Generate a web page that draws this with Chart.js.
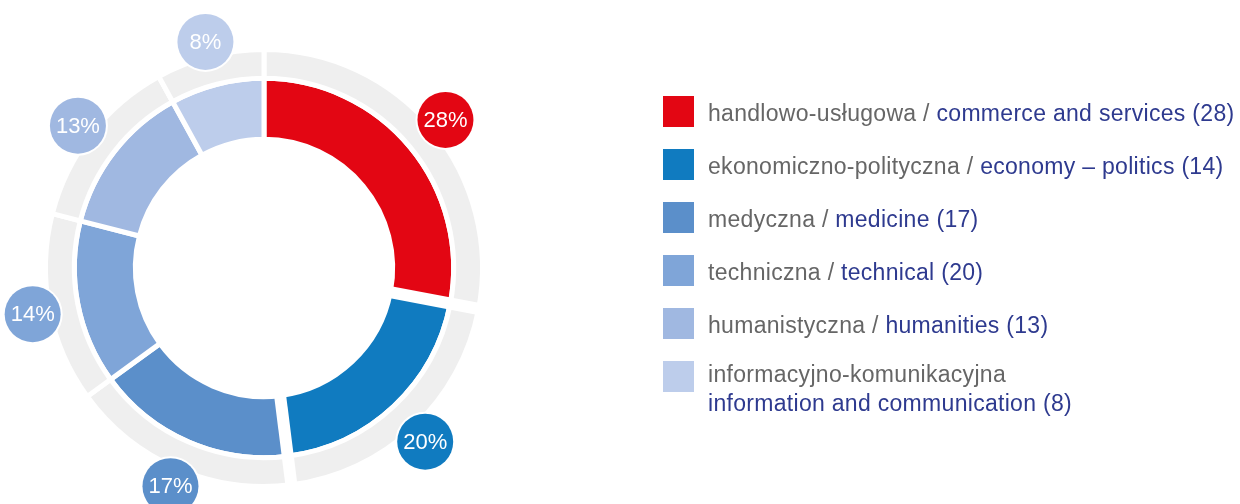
<!DOCTYPE html>
<html>
<head>
<meta charset="utf-8">
<script src="https://cdn.jsdelivr.net/npm/chart.js@4/dist/chart.umd.min.js"></script>
<style>
  html, body { margin: 0; padding: 0; background: #fff; }
  body { width: 1240px; height: 504px; position: relative; overflow: hidden; font-family: "Liberation Sans", Arial, sans-serif; }
  #chartBox { position: absolute; left: 0; top: 0; width: 528px; height: 504px; }
  #legend { position: absolute; left: 0; top: 0; width: 1240px; height: 504px; pointer-events: none; }
  .row { position: absolute; left: 663px; }
  .sw { position: absolute; left: 0; top: 0; width: 31px; height: 31px; }
  .txt { position: absolute; left: 45px; white-space: nowrap; font-size: 23px; line-height: 29px; letter-spacing: 0.3px; }
  .pl { color: #666666; }
  .en { color: #2e3a8f; }
</style>
</head>
<body>
<div id="chartBox"><canvas id="c"></canvas></div>
<div id="legend"></div>
<script>
// ---- data ----
const categoriesPl = ['handlowo-usługowa', 'ekonomiczno-polityczna', 'medyczna', 'techniczna', 'humanistyczna', 'informacyjno-komunikacyjna'];
const categoriesEn = ['commerce and services', 'economy – politics', 'medicine', 'technical', 'humanities', 'information and communication'];
const legendCounts = [28, 14, 17, 20, 13, 8];
const sharePercent = [28, 20, 17, 14, 13, 8];

// ---- styles ----
const segmentColors = ['#E30613', '#107BC0', '#5B8FCA', '#7FA5D8', '#A0B8E1', '#BDCDEB'];
const ringGrey = '#EFEFEF';
const wideGapAtStart = [0, 12, 12, 0, 0, 0]; // extra white separator width at the start edge of a segment

// ---- legend (HTML) ----
const legend = document.getElementById('legend');
categoriesPl.forEach((pl, i) => {
  const row = document.createElement('div');
  row.className = 'row';
  row.style.top = (96 + i * 53) + 'px';
  const sw = document.createElement('div');
  sw.className = 'sw';
  sw.style.background = segmentColors[i];
  row.appendChild(sw);
  const txt = document.createElement('div');
  txt.className = 'txt';
  const twoLine = i === categoriesPl.length - 1;
  txt.style.top = twoLine ? '-1px' : '3px';
  const p = document.createElement('span');
  p.className = 'pl';
  p.textContent = pl + (twoLine ? '' : ' / ');
  const e = document.createElement('span');
  e.className = 'en';
  e.textContent = categoriesEn[i] + ' (' + legendCounts[i] + ')';
  txt.appendChild(p);
  if (twoLine) txt.appendChild(document.createElement('br'));
  txt.appendChild(e);
  row.appendChild(txt);
  legend.appendChild(row);
});

// ---- plugin: wide gaps + percentage bubbles ----
const decorations = {
  id: 'decorations',
  afterDatasetsDraw(chart) {
    const ctx = chart.ctx;
    const outerArcs = chart.getDatasetMeta(0).data;
    const innerArcs = chart.getDatasetMeta(1).data;
    ctx.save();
    innerArcs.forEach((arc, i) => {
      const w = wideGapAtStart[i];
      if (!w) return;
      const a = arc.startAngle;
      const r0 = arc.innerRadius - 3;
      const r1 = outerArcs[i].outerRadius + 3;
      ctx.beginPath();
      ctx.moveTo(arc.x + r0 * Math.cos(a), arc.y + r0 * Math.sin(a));
      ctx.lineTo(arc.x + r1 * Math.cos(a), arc.y + r1 * Math.sin(a));
      ctx.strokeStyle = '#ffffff';
      ctx.lineWidth = w;
      ctx.stroke();
    });
    innerArcs.forEach((arc, i) => {
      const mid = (arc.startAngle + arc.endAngle) / 2;
      const r = outerArcs[i].outerRadius + 17;
      const x = arc.x + r * Math.cos(mid);
      const y = arc.y + r * Math.sin(mid) + 2;
      ctx.beginPath();
      ctx.arc(x, y, 30, 0, Math.PI * 2);
      ctx.fillStyle = '#ffffff';
      ctx.fill();
      ctx.beginPath();
      ctx.arc(x, y, 28, 0, Math.PI * 2);
      ctx.fillStyle = segmentColors[i];
      ctx.fill();
      ctx.fillStyle = '#ffffff';
      ctx.font = '22px "Liberation Sans", Arial, sans-serif';
      ctx.textAlign = 'center';
      ctx.textBaseline = 'middle';
      ctx.fillText(sharePercent[i] + '%', x, y + 1);
    });
    ctx.restore();
  }
};

new Chart(document.getElementById('c'), {
  type: 'doughnut',
  data: {
    labels: categoriesPl,
    datasets: [
      {
        data: sharePercent,
        backgroundColor: sharePercent.map(() => ringGrey),
        borderColor: '#ffffff',
        borderWidth: 5,
        weight: 26
      },
      {
        data: sharePercent,
        backgroundColor: segmentColors,
        borderColor: '#ffffff',
        borderWidth: 5,
        weight: 55
      }
    ]
  },
  options: {
    responsive: true,
    maintainAspectRatio: false,
    animation: false,
    events: [],
    radius: 218.5,
    cutout: 137.5,
    layout: { padding: { top: 32 } },
    plugins: {
      legend: { display: false },
      tooltip: { enabled: false }
    }
  },
  plugins: [decorations]
});
</script>
</body>
</html>
